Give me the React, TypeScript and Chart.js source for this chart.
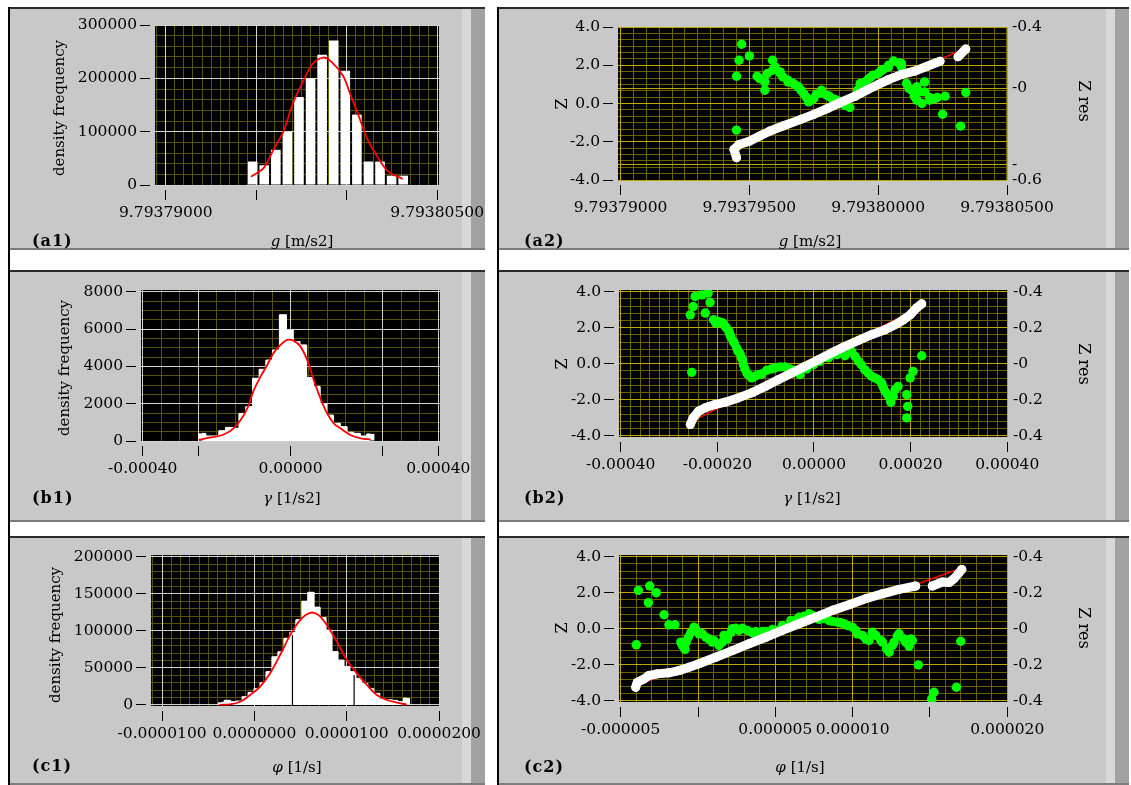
import React, { useEffect, useRef } from "react";
import { Chart, registerables } from "chart.js";

Chart.register(...registerables);

// ================= (a1) histogram of g =================
const a1BinG = [9.7937948, 9.79379544, 9.79379608, 9.79379672, 9.79379736, 9.793798, 9.79379864, 9.79379928, 9.79379992, 9.79380056, 9.7938012, 9.79380184, 9.79380248, 9.79380312];
const a1BinDensity = [44000, 37000, 66000, 100000, 165000, 200000, 244000, 271000, 214000, 132000, 44000, 44000, 17500, 17500];
const a1FitG = [9.7937947, 9.7937954, 9.7937959, 9.7937965, 9.793797, 9.7937976, 9.7937981, 9.7937987, 9.7937992, 9.7937998, 9.7938002, 9.7938007, 9.7938012, 9.7938018, 9.7938023, 9.7938031];
const a1FitDensity = [15700, 31500, 62900, 100600, 151000, 195000, 226400, 239000, 229600, 204300, 169800, 125800, 81700, 47200, 25100, 11300];
const a1XTicks = [9.79379, 9.793795, 9.7938, 9.793805];
const a1XLabels = ["9.79379000", "", "", "9.79380500"];
const a1YTicks = [0, 100000, 200000, 300000];
const a1YLabels = ["0", "100000", "200000", "300000"];

// ================= (a2) normal plot of g =================
const a2ZG = [9.7937945, 9.7937944, 9.7937946, 9.793795, 9.7937954, 9.7937958, 9.7937963, 9.793797, 9.7937975, 9.793798, 9.7937985, 9.7937991, 9.7937996, 9.7938, 9.7938004, 9.7938009, 9.7938014, 9.7938019, 9.7938024, 9.7938027, 9.7938031, 9.7938034];
const a2Z = [-2.83, -2.4, -2.14, -1.97, -1.7, -1.44, -1.18, -0.83, -0.57, -0.28, 0.03, 0.38, 0.73, 0.99, 1.25, 1.51, 1.69, 1.95, 2.21, null, 2.44, 2.85];
const a2FitG = [9.7937944, 9.7938034];
const a2FitZ = [-2.47, 2.9];
const a2ResG = [9.7937947, 9.7937946, 9.793795, 9.7937945, 9.7937945, 9.7937953, 9.7937956, 9.7937956, 9.7937959, 9.7937959, 9.7937962, 9.7937963, 9.7937965, 9.7937968, 9.793797, 9.7937972, 9.7937973, 9.7937975, 9.7937978, 9.793798, 9.7937982, 9.7937984, 9.7937985, 9.7937989, 9.7937991, 9.7937993, 9.7937996, 9.7937998, 9.7938001, 9.7938004, 9.7938006, 9.7938009, 9.7938011, 9.7938013, 9.7938014, 9.7938016, 9.7938017, 9.7938018, 9.793802, 9.7938022, 9.7938026, 9.7938025, 9.7938032, 9.7938034,
  9.7937954, 9.7937957, 9.793796, 9.7937962, 9.7937965, 9.7937967, 9.7937969, 9.7937971, 9.7937974, 9.7937976, 9.7937978, 9.7937981, 9.7937983, 9.7937987, 9.7937992, 9.7937995, 9.7937997, 9.79380, 9.7938002, 9.7938004, 9.7938008, 9.7938009, 9.7938012, 9.7938015, 9.7938015, 9.7938018, 9.793802, 9.7938023];
const a2Res = [0.287, 0.183, 0.211, 0.078, -0.274, 0.078, 0.041, -0.013, 0.183, 0.117, 0.106, 0.074, 0.041, 0.02, -0.013, -0.057, -0.089, -0.067, -0.013, -0.046, -0.067, -0.078, -0.1, -0.126, -0.052, 0.031, 0.057, 0.085, 0.113, 0.139, 0.178, 0.161, 0.031, -0.013, -0.052, -0.024, -0.1, 0.041, -0.061, -0.067, -0.052, -0.17, -0.248, -0.028,
  0.063, 0.096, 0.139, 0.096, 0.052, 0.031, 0.009, -0.034, -0.078, -0.039, -0.031, -0.052, -0.074, -0.111, -0.013, 0.041, 0.07, 0.096, 0.122, 0.15, 0.165, 0.139, -0.002, 0.009, -0.078, -0.024, -0.078, -0.061];
const a2XTicks = [9.79379, 9.793795, 9.7938, 9.793805];
const a2XLabels = ["9.79379000", "9.79379500", "9.79380000", "9.79380500"];
const zTicks = [-4, -2, 0, 2, 4];
const zLabels = ["-4.0", "-2.0", "0.0", "2.0", "4.0"];
const a2ResTicks = [0.4, 0, -0.5, -0.6];
const a2ResLabels = ["-0.4", "-0", "-", "-0.6"];

// ================= (b1) histogram of gamma =================
const b1BinGamma = [-0.0002389, -0.0002207, -0.0002025, -0.0001843, -0.0001661, -0.0001479, -0.0001297, -0.0001115, -0.0000933, -0.0000751, -0.0000569, -0.0000387, -0.0000205, -0.0000023, 0.0000159, 0.0000341, 0.0000523, 0.0000705, 0.0000887, 0.0001069, 0.0001251, 0.0001433, 0.0001615, 0.0001797, 0.0001979, 0.0002161];
const b1BinDensity = [410, 270, 270, 550, 730, 680, 1480, 1840, 3360, 3840, 4340, 4880, 6760, 5950, 5330, 5150, 3400, 2920, 1980, 1390, 950, 770, 470, 410, 270, 380];
const b1FitGamma = [-0.000248, -0.00023, -0.000194, -0.000171, -0.000154, -0.000135, -0.000117, -0.000099, -0.000081, -0.000063, -0.000045, -0.000027, -0.000009, 0.000009, 0.000027, 0.000045, 0.000063, 0.000081, 0.000099, 0.000117, 0.000135, 0.000162, 0.00019, 0.000217];
const b1FitDensity = [60, 145, 268, 445, 680, 1126, 1753, 2735, 3448, 4075, 4735, 5147, 5415, 5362, 5056, 4343, 3271, 2290, 1485, 949, 680, 322, 145, 91];
const b1XTicks = [-0.0004, -0.00025, 0, 0.00025, 0.0004];
const b1XLabels = ["-0.00040", "", "0.00000", "", "0.00040"];
const b1YTicks = [0, 2000, 4000, 6000, 8000];
const b1YLabels = ["0", "2000", "4000", "6000", "8000"];

// ================= (b2) normal plot of gamma =================
const b2ZGamma = [-0.000256, -0.00025, -0.000239, -0.000225, -0.000205, -0.000184, -0.000157, -0.000129, -0.000101, -0.000074, -0.000046, -0.000019, 0.000009, 0.000036, 0.000064, 0.000092, 0.000119, 0.000147, 0.000174, 0.000185, 0.000199, 0.000212, 0.000223];
const b2Z = [-3.38, -3.01, -2.64, -2.45, -2.27, -2.14, -1.9, -1.62, -1.26, -0.89, -0.52, -0.15, 0.22, 0.59, 0.96, 1.29, 1.61, 1.88, 2.25, 2.44, 2.71, 3.09, 3.32];
const b2FitGamma = [-0.000256, 0.000223];
const b2FitZ = [-3.24, 3.17];
const b2ResGamma = [-0.000253, -0.000256, -0.00025, -0.000246, -0.000232, -0.000219, -0.000215, -0.000225, -0.000198, -0.000188, -0.000181, -0.000174, -0.000167, -0.000157, -0.00015, -0.000146, -0.000139, -0.000129, -0.000115, -0.000098, -0.000081, -0.00006, -0.000043, -0.000029, -0.000015, -0.000001, 0.000012, 0.00003, 0.000047, 0.000064, 0.000078, 0.000092, 0.000105, 0.000119, 0.000133, 0.000143, 0.000152, 0.000159, 0.000168, 0.000174, 0.000192, 0.000194, 0.000192, 0.000199, 0.000205, 0.000223,
  -0.000208, -0.000203, -0.000192, -0.000184, -0.000176, -0.000172, -0.000165, -0.00016, -0.000153, -0.000148, -0.000143, -0.000136, -0.000122, -0.000108, -0.000088, -0.00007, -0.00005, 0.000085, 0.000098, 0.000112, 0.000126, 0.00014, 0.000147, 0.000157, 0.000164];
const b2Res = [-0.048, 0.271, 0.317, 0.373, 0.382, 0.392, 0.34, 0.281, 0.234, 0.225, 0.198, 0.161, 0.124, 0.068, 0.032, -0.006, -0.052, -0.079, -0.061, -0.037, -0.024, -0.018, -0.037, -0.061, -0.029, -0.006, 0.013, 0.032, 0.05, 0.044, 0.068, 0.013, -0.033, -0.07, -0.089, -0.129, -0.172, -0.214, -0.144, -0.126, -0.172, -0.237, -0.301, -0.079, -0.043, 0.044,
  0.244, 0.225, 0.229, 0.207, 0.179, 0.148, 0.115, 0.087, 0.055, 0.022, -0.029, -0.061, -0.07, -0.057, -0.029, -0.018, -0.029, 0.04, -0.006, -0.052, -0.079, -0.107, -0.153, -0.19, -0.181];
const b2XTicks = [-0.0004, -0.0002, 0, 0.0002, 0.0004];
const b2XLabels = ["-0.00040", "-0.00020", "0.00000", "0.00020", "0.00040"];
const resTicks = [0.4, 0.2, 0, -0.2, -0.4];
const resLabels = ["-0.4", "-0.2", "-0", "-0.2", "-0.4"];

// ================= (c1) histogram of phi =================
const c1BinPhi = [-0.00000358, -0.00000293, -0.00000228, -0.00000164, -0.00000099, -0.00000034, 0.0000003, 0.00000095, 0.0000016, 0.00000224, 0.00000289, 0.00000354, 0.00000418, 0.00000483, 0.00000548, 0.00000612, 0.00000677, 0.00000742, 0.00000806, 0.00000871, 0.00000936, 0.00001, 0.00001065, 0.0000113, 0.00001194, 0.00001259, 0.00001324, 0.00001388, 0.00001453, 0.00001518, 0.00001582, 0.00001647];
const c1BinDensity = [3600, 6300, 4500, 5400, 11200, 17000, 22000, 30000, 45000, 65000, 71800, 90000, 98000, 115000, 140000, 152000, 132000, 118000, 101000, 72000, 60600, 52000, 45000, 36000, 29000, 22000, 15800, 8100, 7000, 6300, 4500, 9400];
const c1FitPhi = [-0.00000379, -0.00000263, -0.00000155, -0.00000047, 0.00000062, 0.0000017, 0.00000278, 0.00000387, 0.00000495, 0.00000603, 0.00000693, 0.00000784, 0.00000893, 0.00001001, 0.00001109, 0.00001218, 0.00001326, 0.00001434, 0.00001543, 0.00001651];
const c1FitDensity = [300, 900, 4400, 13500, 24700, 42700, 67400, 94300, 114600, 124400, 121300, 107800, 85300, 60600, 42700, 27000, 13500, 6700, 3100, 500];
const c1MarkPhi = [0.00000412, 0.0000108];
const c1MarkTop = [94300, 40400];
const c1XTicks = [-0.00001, 0, 0.00001, 0.00002];
const c1XLabels = ["-0.0000100", "0.0000000", "0.0000100", "0.0000200"];
const c1YTicks = [0, 50000, 100000, 150000, 200000];
const c1YLabels = ["0", "50000", "100000", "150000", "200000"];

// ================= (c2) normal plot of phi =================
const c2ZPhi = [-0.00000403, -0.00000393, -0.00000349, -0.00000317, -0.00000263, -0.00000188, -0.00000123, -0.00000058, 0.00000006, 0.00000114, 0.00000222, 0.0000033, 0.00000438, 0.00000545, 0.00000653, 0.00000761, 0.00000869, 0.00000977, 0.00001085, 0.00001192, 0.000013, 0.00001408, 0.0000145, 0.00001515, 0.0000158, 0.00001624, 0.00001656, 0.00001684, 0.00001706];
const c2Z = [-3.24, -2.97, -2.78, -2.59, -2.5, -2.44, -2.32, -2.13, -1.94, -1.58, -1.21, -0.83, -0.47, -0.09, 0.28, 0.64, 1.02, 1.33, 1.67, 1.94, 2.18, 2.37, null, 2.37, 2.59, 2.56, 2.78, 3.06, 3.29];
const c2FitPhi = [-0.00000403, 0.00001706];
const c2FitZ = [-3.13, 3.37];
const c2ResPhi = [-0.00000399, -0.00000386, -0.00000321, -0.00000312, -0.0000027, -0.0000022, -0.00000188, -0.00000149, -0.00000101, -0.00000084, -0.00000063, -0.00000026, 0.00000006, 0.0000005, 0.00000092, 0.00000136, 0.00000168, 0.00000222, 0.00000287, 0.00000351, 0.00000416, 0.00000481, 0.00000545, 0.000006, 0.00000653, 0.00000718, 0.00000783, 0.00000847, 0.00000901, 0.00000944, 0.00000998, 0.0000103, 0.00001085, 0.00001127, 0.00001182, 0.00001236, 0.00001268, 0.000013, 0.00001332, 0.00001365, 0.00001376, 0.00001425, 0.00001526, 0.00001511, 0.00001671, 0.00001699,
  -0.00000112, -0.00000091, -0.00000076, -0.00000047, -0.00000015, 0.00000028, 0.00000071, 0.00000103, 0.00000157, 0.0000019, 0.00000212, 0.00000244, 0.00000265, 0.00000319, 0.00000373, 0.00000438, 0.00000503, 0.00000567, 0.0000061, 0.00000642, 0.00000686, 0.00000739, 0.00000815, 0.00000869, 0.00000923, 0.00000966, 0.0000102, 0.00001063, 0.00001106, 0.00001149, 0.00001192, 0.00001218, 0.00001257, 0.00001289, 0.00001343, 0.00001386];
const c2Res = [-0.089, 0.213, 0.144, 0.237, 0.2, 0.078, 0.022, 0.022, -0.093, -0.115, -0.047, 0.009, -0.028, -0.047, -0.074, -0.093, -0.037, 0.0, 0.003, -0.022, -0.015, -0.004, 0.018, 0.046, 0.064, 0.083, 0.052, 0.046, 0.037, 0.028, 0.009, -0.028, -0.056, -0.019, -0.065, -0.13, -0.074, -0.028, -0.056, -0.097, -0.056, -0.2, -0.352, -0.389, -0.324, -0.069,
  -0.074, -0.102, -0.074, -0.022, 0.0, -0.028, -0.056, -0.065, -0.074, -0.056, -0.022, 0.003, -0.009, -0.009, -0.015, -0.015, -0.009, 0.009, 0.037, 0.052, 0.07, 0.074, 0.056, 0.041, 0.033, 0.018, -0.009, -0.037, -0.065, -0.037, -0.074, -0.111, -0.093, -0.041, -0.074, -0.065];
const c2XTicks = [-0.000005, 0, 0.000005, 0.00001, 0.000015, 0.00002];
const c2XLabels = ["-0.000005", "", "0.000005", "0.000010", "", "0.000020"];

// ================= styling =================
const SERIF = "'DejaVu Serif', serif";
const TICK_FONT = { family: SERIF, size: 15.5 };
const HIST_MAJOR = "#d2d2d2";
const HIST_MINOR = "#58530a";
const QQ_MAJOR = "#bba900";
const QQ_MINOR = "#6a6200";
const PANEL_GRAY = "#c8c8c8";

type Frame = { left: number; top: number; width: number; height: number };
type Area = { left: number; top: number; right: number; bottom: number };
type AxisSpec = { min: number; max: number; ticks: number[]; labels: string[]; minorStep: number; minorAnchor: number };

function pts(xs: number[], ys: (number | null)[]) {
  return xs.map((x, i) => ({ x, y: ys[i] }));
}

function gridValues(min: number, max: number, anchor: number, step: number) {
  const out: number[] = [];
  const k0 = Math.ceil((min - anchor) / step - 1e-9);
  const k1 = Math.floor((max - anchor) / step + 1e-9);
  for (let k = k0; k <= k1; k++) out.push(anchor + k * step);
  return out;
}

function fixedTicks(values: number[]) {
  return (scale: any) => {
    scale.ticks = values.map((v) => ({ value: v }));
  };
}

const plotBackground = {
  id: "plotBackground",
  beforeDraw(chart: any) {
    const { ctx, chartArea } = chart;
    if (!chartArea) return;
    ctx.save();
    ctx.fillStyle = "#000";
    ctx.fillRect(chartArea.left, chartArea.top, chartArea.right - chartArea.left, chartArea.bottom - chartArea.top);
    ctx.restore();
  },
};

function buildScales(frame: Frame, area: Area, x: AxisSpec, y: AxisSpec, yr: AxisSpec | null, major: string, minor: string) {
  const leftW = area.left - frame.left;
  const bottomH = frame.top + frame.height - area.bottom;
  const rightW = frame.left + frame.width - area.right;
  const scales: any = {
    x: {
      type: "linear",
      position: "bottom",
      min: x.min,
      max: x.max,
      offset: false,
      afterBuildTicks: fixedTicks(x.ticks),
      afterFit: (s: any) => {
        s.height = bottomH;
        s.paddingLeft = 0;
        s.paddingRight = 0;
      },
      ticks: {
        autoSkip: false,
        maxRotation: 0,
        minRotation: 0,
        padding: 4,
        color: "#000",
        font: TICK_FONT,
        callback: (_v: any, i: number) => x.labels[i],
      },
      grid: {
        color: major,
        lineWidth: 1,
        offset: false,
        z: -1,
        drawTicks: true,
        tickLength: 15,
        tickColor: "#000",
        tickWidth: 1,
        tickBorderDash: [0, 5, 10, 100],
      },
      border: { display: false },
    },
    y: {
      type: "linear",
      position: "left",
      min: y.min,
      max: y.max,
      afterBuildTicks: fixedTicks(y.ticks),
      afterFit: (s: any) => {
        s.width = leftW;
        s.paddingTop = 0;
        s.paddingBottom = 0;
      },
      ticks: {
        autoSkip: false,
        padding: 3,
        color: "#000",
        font: TICK_FONT,
        callback: (_v: any, i: number) => y.labels[i],
      },
      grid: {
        color: major,
        lineWidth: 1,
        z: -1,
        drawTicks: true,
        tickLength: 15,
        tickColor: "#000",
        tickWidth: 1,
        tickBorderDash: [10, 5],
      },
      border: { display: false },
    },
    xMinor: {
      type: "linear",
      position: "bottom",
      min: x.min,
      max: x.max,
      offset: false,
      afterBuildTicks: fixedTicks(gridValues(x.min, x.max, x.minorAnchor, x.minorStep)),
      afterFit: (s: any) => {
        s.height = 0;
        s.paddingLeft = 0;
        s.paddingRight = 0;
      },
      ticks: { display: false },
      grid: { color: minor, lineWidth: 1, offset: false, z: -2, drawTicks: false },
      border: { display: false },
    },
    yMinor: {
      type: "linear",
      position: "left",
      min: y.min,
      max: y.max,
      afterBuildTicks: fixedTicks(gridValues(y.min, y.max, y.minorAnchor, y.minorStep)),
      afterFit: (s: any) => {
        s.width = 0;
        s.paddingTop = 0;
        s.paddingBottom = 0;
      },
      ticks: { display: false },
      grid: { color: minor, lineWidth: 1, z: -2, drawTicks: false },
      border: { display: false },
    },
  };
  if (yr) {
    scales.yr = {
      type: "linear",
      position: "right",
      min: yr.min,
      max: yr.max,
      afterBuildTicks: fixedTicks(yr.ticks),
      afterFit: (s: any) => {
        s.width = rightW;
        s.paddingTop = 0;
        s.paddingBottom = 0;
      },
      ticks: {
        autoSkip: false,
        padding: 5,
        color: "#000",
        font: TICK_FONT,
        callback: (_v: any, i: number) => yr.labels[i],
      },
      grid: { color: major, lineWidth: 1, z: -1, drawTicks: false },
      border: { display: false },
    };
  }
  const padding = { left: 0, top: area.top - frame.top, right: yr ? 0 : rightW, bottom: 0 };
  return { scales, padding };
}

function baseOptions(scales: any, padding: any) {
  return {
    responsive: false,
    animation: false,
    devicePixelRatio: 1,
    events: [],
    layout: { padding },
    plugins: { legend: { display: false }, tooltip: { enabled: false }, title: { display: false } },
    scales,
  };
}

function histConfig(
  frame: Frame,
  area: Area,
  x: AxisSpec,
  y: AxisSpec,
  binX: number[],
  binY: number[],
  fitX: number[],
  fitY: number[],
  barPct: number,
  marks?: { xs: number[]; tops: number[] }
) {
  const { scales, padding } = buildScales(frame, area, x, y, null, HIST_MAJOR, HIST_MINOR);
  const contiguous = barPct >= 1;
  const datasets: any[] = [
    {
      type: "bar",
      data: pts(binX, binY),
      backgroundColor: "#ffffff",
      borderWidth: 0,
      inflateAmount: 0,
      barPercentage: contiguous ? 1 : barPct,
      categoryPercentage: contiguous ? 1.2 : 1,
      xAxisID: "x",
      yAxisID: "y",
      order: 4,
    },
    {
      type: "line",
      data: pts(fitX, fitY),
      borderColor: "#ff0000",
      borderWidth: 1.8,
      pointRadius: 0,
      tension: 0.35,
      fill: false,
      xAxisID: "x",
      yAxisID: "y",
      order: 1,
    },
  ];
  if (contiguous) {
    // seamless outline of the same bins (covers anti-aliasing seams between adjacent bars)
    datasets.push({
      type: "line",
      data: pts(binX, binY),
      stepped: "middle",
      fill: "origin",
      backgroundColor: "#ffffff",
      borderColor: "#ffffff",
      borderWidth: 1,
      pointRadius: 0,
      xAxisID: "x",
      yAxisID: "y",
      order: 3,
    });
  }
  if (marks) {
    marks.xs.forEach((mx, i) => {
      datasets.push({
        type: "line",
        data: [
          { x: mx, y: 0 },
          { x: mx, y: marks.tops[i] },
        ],
        borderColor: "#000000",
        borderWidth: 1.2,
        pointRadius: 0,
        fill: false,
        xAxisID: "x",
        yAxisID: "y",
        order: 2,
      });
    });
  }
  return { type: "bar", data: { datasets }, options: baseOptions(scales, padding), plugins: [plotBackground] };
}

function qqConfig(
  frame: Frame,
  area: Area,
  x: AxisSpec,
  y: AxisSpec,
  yr: AxisSpec,
  zx: number[],
  zy: (number | null)[],
  fitX: number[],
  fitY: number[],
  resX: number[],
  resY: number[]
) {
  const { scales, padding } = buildScales(frame, area, x, y, yr, QQ_MAJOR, QQ_MINOR);
  const datasets: any[] = [
    {
      data: pts(zx, zy),
      showLine: true,
      spanGaps: false,
      borderColor: "#ffffff",
      borderWidth: 9,
      borderCapStyle: "round",
      borderJoinStyle: "round",
      backgroundColor: "#ffffff",
      pointBackgroundColor: "#ffffff",
      pointBorderWidth: 0,
      pointRadius: 4.5,
      xAxisID: "x",
      yAxisID: "y",
      order: 0,
    },
    {
      data: pts(resX, resY),
      showLine: false,
      borderColor: "#00ff00",
      backgroundColor: "#00ff00",
      pointBackgroundColor: "#00ff00",
      pointBorderWidth: 0,
      pointRadius: 4.7,
      xAxisID: "x",
      yAxisID: "yr",
      order: 1,
    },
    {
      data: pts(fitX, fitY),
      showLine: true,
      borderColor: "#ff0000",
      borderWidth: 1.5,
      pointRadius: 0,
      xAxisID: "x",
      yAxisID: "y",
      order: 2,
    },
  ];
  return { type: "scatter", data: { datasets }, options: baseOptions(scales, padding), plugins: [plotBackground] };
}

function ChartCanvas({ frame, build }: { frame: Frame; build: () => any }) {
  const ref = useRef<HTMLCanvasElement | null>(null);
  useEffect(() => {
    const chart = new Chart(ref.current as HTMLCanvasElement, build());
    return () => chart.destroy();
  }, []);
  return (
    <canvas
      ref={ref}
      width={frame.width}
      height={frame.height}
      style={{ position: "absolute", left: frame.left, top: frame.top, width: frame.width, height: frame.height, zIndex: 2 }}
    />
  );
}

function Panel({ left, top, width, height }: Frame) {
  return (
    <div
      style={{
        position: "absolute",
        left,
        top,
        width,
        height,
        boxSizing: "border-box",
        background: PANEL_GRAY,
        borderTop: "2px solid #2a2a2a",
        borderLeft: "2px solid #000",
        borderBottom: "2px solid #7c7c7c",
        zIndex: 1,
      }}
    >
      <div style={{ position: "absolute", right: 14, top: 0, bottom: 0, width: 9, background: "#d8d8d8" }} />
      <div style={{ position: "absolute", right: 0, top: 0, bottom: 0, width: 14, background: "#a2a2a2" }} />
    </div>
  );
}

type TextProps = { x: number; y: number; rotate?: number; size?: number; bold?: boolean; children: any; anchor?: "center" | "left" };
function Label({ x, y, rotate = 0, size = 15, bold = false, children, anchor = "center" }: TextProps) {
  const tx = anchor === "center" ? "-50%" : "0";
  return (
    <div
      style={{
        position: "absolute",
        left: x,
        top: y,
        transform: `translate(${tx}, -50%) rotate(${rotate}deg)`,
        fontFamily: SERIF,
        fontSize: size,
        fontWeight: bold ? "bold" : "normal",
        letterSpacing: bold ? 1 : 0,
        color: "#000",
        whiteSpace: "nowrap",
        lineHeight: 1,
        zIndex: 3,
      }}
    >
      {children}
    </div>
  );
}

// panel and canvas frames (page coordinates)
const COL1 = { left: 8, width: 477 };
const COL2 = { left: 497, width: 632 };
const ROW1 = { top: 7, height: 243 };
const ROW2 = { top: 270, height: 252 };
const ROW3 = { top: 536, height: 249 };

const fA1: Frame = { left: 8, top: ROW1.top, width: 488, height: ROW1.height };
const fA2: Frame = { left: COL2.left, top: ROW1.top, width: COL2.width, height: ROW1.height };
const fB1: Frame = { left: 8, top: ROW2.top, width: 488, height: ROW2.height };
const fB2: Frame = { left: COL2.left, top: ROW2.top, width: COL2.width, height: ROW2.height };
const fC1: Frame = { left: 8, top: ROW3.top, width: 488, height: ROW3.height };
const fC2: Frame = { left: COL2.left, top: ROW3.top, width: COL2.width, height: ROW3.height };

const buildA1 = () =>
  histConfig(
    fA1,
    { left: 155, top: 25, right: 439, bottom: 185 },
    { min: 9.7937894, max: 9.7938051, ticks: a1XTicks, labels: a1XLabels, minorStep: 0.0000005, minorAnchor: 9.79379 },
    { min: 0, max: 300000, ticks: a1YTicks, labels: a1YLabels, minorStep: 20000, minorAnchor: 0 },
    a1BinG,
    a1BinDensity,
    a1FitG,
    a1FitDensity,
    0.83
  );

const buildA2 = () =>
  qqConfig(
    fA2,
    { left: 618, top: 27, right: 1007, bottom: 180 },
    { min: 9.7937899, max: 9.793805, ticks: a2XTicks, labels: a2XLabels, minorStep: 0.0000005, minorAnchor: 9.79379 },
    { min: -4, max: 4, ticks: zTicks, labels: zLabels, minorStep: 1 / 3, minorAnchor: 0 },
    { min: -0.6, max: 0.4, ticks: a2ResTicks, labels: a2ResLabels, minorStep: 0.1, minorAnchor: 0 },
    a2ZG,
    a2Z,
    a2FitG,
    a2FitZ,
    a2ResG,
    a2Res
  );

const buildB1 = () =>
  histConfig(
    fB1,
    { left: 141, top: 290, right: 440, bottom: 441 },
    { min: -0.0004046, max: 0.0004046, ticks: b1XTicks, labels: b1XLabels, minorStep: 0.00005, minorAnchor: 0 },
    { min: 0, max: 8090, ticks: b1YTicks, labels: b1YLabels, minorStep: 500, minorAnchor: 0 },
    b1BinGamma,
    b1BinDensity,
    b1FitGamma,
    b1FitDensity,
    1
  );

const buildB2 = () =>
  qqConfig(
    fB2,
    { left: 619, top: 290, right: 1008, bottom: 437 },
    { min: -0.0004035, max: 0.0004015, ticks: b2XTicks, labels: b2XLabels, minorStep: 0.00002, minorAnchor: 0 },
    { min: -4.07, max: 4.09, ticks: zTicks, labels: zLabels, minorStep: 0.4, minorAnchor: 0 },
    { min: -0.407, max: 0.409, ticks: resTicks, labels: resLabels, minorStep: 0.04, minorAnchor: 0 },
    b2ZGamma,
    b2Z,
    b2FitGamma,
    b2FitZ,
    b2ResGamma,
    b2Res
  );

const buildC1 = () =>
  histConfig(
    fC1,
    { left: 151, top: 555, right: 440, bottom: 706 },
    { min: -0.0000112, max: 0.0000201, ticks: c1XTicks, labels: c1XLabels, minorStep: 0.000001, minorAnchor: 0 },
    { min: -1350, max: 202300, ticks: c1YTicks, labels: c1YLabels, minorStep: 10000, minorAnchor: 0 },
    c1BinPhi,
    c1BinDensity,
    c1FitPhi,
    c1FitDensity,
    1,
    { xs: c1MarkPhi, tops: c1MarkTop }
  );

const buildC2 = () =>
  qqConfig(
    fC2,
    { left: 619, top: 555, right: 1008, bottom: 702 },
    { min: -0.00000511, max: 0.000020045, ticks: c2XTicks, labels: c2XLabels, minorStep: 0.000001, minorAnchor: 0 },
    { min: -4.06, max: 4.09, ticks: zTicks, labels: zLabels, minorStep: 0.4, minorAnchor: 0 },
    { min: -0.406, max: 0.409, ticks: resTicks, labels: resLabels, minorStep: 0.04, minorAnchor: 0 },
    c2ZPhi,
    c2Z,
    c2FitPhi,
    c2FitZ,
    c2ResPhi,
    c2Res
  );

export default function App() {
  return (
    <div style={{ position: "fixed", left: 0, top: 0, width: 1131, height: 785, background: "#fff", overflow: "hidden" }}>
      <Panel left={COL1.left} top={ROW1.top} width={COL1.width} height={ROW1.height} />
      <Panel left={COL2.left} top={ROW1.top} width={COL2.width} height={ROW1.height} />
      <Panel left={COL1.left} top={ROW2.top} width={COL1.width} height={ROW2.height} />
      <Panel left={COL2.left} top={ROW2.top} width={COL2.width} height={ROW2.height} />
      <Panel left={COL1.left} top={ROW3.top} width={COL1.width} height={ROW3.height} />
      <Panel left={COL2.left} top={ROW3.top} width={COL2.width} height={ROW3.height} />
      <div style={{ position: "absolute", left: 8, top: 7, width: 2, height: 778, background: "#000", zIndex: 1 }} />
      <div style={{ position: "absolute", left: 497, top: 7, width: 2, height: 778, background: "#000", zIndex: 1 }} />

      <ChartCanvas frame={fA1} build={buildA1} />
      <ChartCanvas frame={fA2} build={buildA2} />
      <ChartCanvas frame={fB1} build={buildB1} />
      <ChartCanvas frame={fB2} build={buildB2} />
      <ChartCanvas frame={fC1} build={buildC1} />
      <ChartCanvas frame={fC2} build={buildC2} />

      {/* (a1) */}
      <Label x={59} y={108} rotate={-90}>density frequency</Label>
      <Label x={302} y={241}><i>g</i> [m/s2]</Label>
      <Label x={32} y={241} size={16} bold anchor="left">(a1)</Label>
      {/* (a2) */}
      <Label x={562} y={104} rotate={-90} size={16}>Z</Label>
      <Label x={1084} y={101} rotate={90} size={16}>Z res</Label>
      <Label x={810} y={241}><i>g</i> [m/s2]</Label>
      <Label x={524} y={241} size={16} bold anchor="left">(a2)</Label>
      {/* (b1) */}
      <Label x={64} y={368} rotate={-90}>density frequency</Label>
      <Label x={292} y={498}><i>γ</i> [1/s2]</Label>
      <Label x={32} y={498} size={16} bold anchor="left">(b1)</Label>
      {/* (b2) */}
      <Label x={562} y={364} rotate={-90} size={16}>Z</Label>
      <Label x={1084} y={364} rotate={90} size={16}>Z res</Label>
      <Label x={812} y={498}><i>γ</i> [1/s2]</Label>
      <Label x={524} y={498} size={16} bold anchor="left">(b2)</Label>
      {/* (c1) */}
      <Label x={55} y={635} rotate={-90}>density frequency</Label>
      <Label x={297} y={767}><i>φ</i> [1/s]</Label>
      <Label x={32} y={766} size={16} bold anchor="left">(c1)</Label>
      {/* (c2) */}
      <Label x={562} y={628} rotate={-90} size={16}>Z</Label>
      <Label x={1084} y={628} rotate={90} size={16}>Z res</Label>
      <Label x={800} y={767}><i>φ</i> [1/s]</Label>
      <Label x={524} y={767} size={16} bold anchor="left">(c2)</Label>
    </div>
  );
}
